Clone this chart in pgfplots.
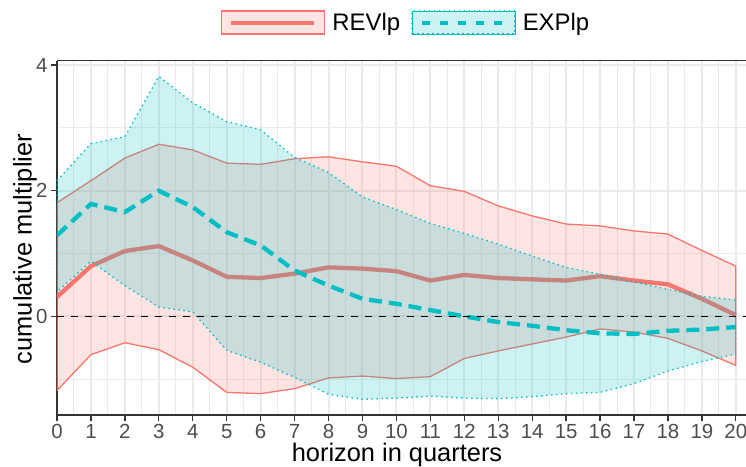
\documentclass[border=0pt]{standalone}
\usepackage{fontspec}
\setmainfont{Liberation Sans}
\usepackage{pgfplots}
\pgfplotsset{compat=1.18}
\definecolor{revc}{HTML}{F8766D}
\definecolor{expc}{HTML}{00BFC4}
\definecolor{gridc}{HTML}{EBEBEB}
\definecolor{axc}{HTML}{333333}
\definecolor{tickc}{HTML}{4D4D4D}
\pgfplotsset{
 revkey/.style={legend image code/.code={
   \fill[revc, fill opacity=0.2] (0bp,-11.5bp) rectangle (103bp,11.5bp);
   \draw[revc, line width=1.3bp] (0bp,-11.5bp) rectangle (103bp,11.5bp);
   \draw[revc, line width=4bp] (10bp,0bp) -- (93bp,0bp);
   \path[draw=none, fill=none] (0bp,0bp) -- (109bp,0bp);}},
 expkey/.style={legend image code/.code={
   \fill[expc, fill opacity=0.2] (0bp,-11.5bp) rectangle (103bp,11.5bp);
   \draw[expc, line width=1.3bp, dash pattern=on 1.5bp off 3.5bp] (0bp,-11.5bp) rectangle (103bp,11.5bp);
   \draw[expc, line width=4bp, dash pattern=on 8bp off 10bp] (10bp,0bp) -- (93bp,0bp);
   \path[draw=none, fill=none] (0bp,0bp) -- (109bp,0bp);}},
}
\begin{document}
\begin{tikzpicture}
\begin{axis}[
 scale only axis, width=689bp, height=354.3bp,
 xmin=0, xmax=20.3, ymin=-1.57, ymax=4.07,
 axis x line*=box, axis y line*=left,
 xtick={0,1,...,20}, ytick={0,2,4},
 minor xtick={0.5,1.5,...,19.5}, minor ytick={-1,1,3},
 xtick pos=left, ytick pos=left,
 grid=both,
 major grid style={gridc, line width=2bp},
 minor grid style={gridc, line width=1bp},
 tick align=outside, major tick length=6bp, minor tick length=0bp,
 tick style={axc, line width=1.3bp},
 axis line style={axc, line width=1.3bp},
 /pgf/number format/assume math mode=true,
 ticklabel style={font=\fontsize{20.5}{24}\selectfont, text=tickc},
 xticklabel style={yshift=0.5bp},
 xlabel={horizon in quarters}, ylabel={cumulative multiplier},
 label style={font=\fontsize{25.5}{30}\selectfont},
 xlabel style={at={(axis description cs:0.4935,0)}, anchor=base, yshift=-46.5bp},
 ylabel style={at={([xshift=-25.3bp]axis description cs:0,0.4685)}, anchor=base},
 legend style={at={(axis description cs:0.5065,1)}, anchor=center, yshift=38.2bp,
   draw=none, fill=none, font=\fontsize{24}{28}\selectfont,
   /tikz/every even column/.append style={column sep=9bp}},
 legend columns=2,
 after end axis/.code={
   \coordinate (pSW) at (rel axis cs:0,0);
   \coordinate (pNE) at (rel axis cs:1,1);},
]
\addlegendimage{revkey}\addlegendentry{REVlp}
\addlegendimage{expkey}\addlegendentry{EXPlp}
% REVlp band
\addplot[fill=revc, fill opacity=0.2, draw=revc, line width=1.3bp, line join=round, forget plot] coordinates {
(0,1.81)(1,2.16)(2,2.52)(3,2.74)(4,2.65)(5,2.44)(6,2.42)(7,2.51)(8,2.54)(9,2.46)(10,2.39)(11,2.08)(12,1.99)(13,1.76)(14,1.60)(15,1.47)(16,1.44)(17,1.36)(18,1.31)(19,1.05)(20,0.80)
(20,-0.78)(19,-0.55)(18,-0.35)(17,-0.25)(16,-0.20)(15,-0.33)(14,-0.44)(13,-0.55)(12,-0.67)(11,-0.96)(10,-0.99)(9,-0.95)(8,-0.98)(7,-1.15)(6,-1.23)(5,-1.21)(4,-0.81)(3,-0.53)(2,-0.42)(1,-0.61)(0,-1.18)
} -- cycle;
% REVlp mean
\addplot[revc, line width=4.3bp, line join=round, forget plot] coordinates {
(0,0.31)(1,0.80)(2,1.04)(3,1.12)(4,0.89)(5,0.63)(6,0.61)(7,0.68)(8,0.78)(9,0.76)(10,0.72)(11,0.57)(12,0.66)(13,0.61)(14,0.59)(15,0.57)(16,0.64)(17,0.57)(18,0.51)(19,0.28)(20,0.02)};
% EXPlp band
\addplot[fill=expc, fill opacity=0.2, draw=expc, line width=1.3bp, dash pattern=on 1.5bp off 3.5bp, forget plot] coordinates {
(0,2.16)(1,2.75)(2,2.86)(3,3.82)(4,3.40)(5,3.10)(6,2.97)(7,2.53)(8,2.29)(9,1.90)(10,1.70)(11,1.48)(12,1.32)(13,1.15)(14,0.96)(15,0.78)(16,0.67)(17,0.55)(18,0.43)(19,0.32)(20,0.26)
(20,-0.60)(19,-0.72)(18,-0.87)(17,-1.07)(16,-1.21)(15,-1.23)(14,-1.28)(13,-1.31)(12,-1.30)(11,-1.27)(10,-1.30)(9,-1.32)(8,-1.24)(7,-0.97)(6,-0.73)(5,-0.54)(4,0.07)(3,0.15)(2,0.49)(1,0.88)(0,0.39)
} -- cycle;
% EXPlp mean
\addplot[expc, line width=4.3bp, dash pattern=on 13bp off 7bp, forget plot] coordinates {
(0,1.29)(1,1.79)(2,1.66)(3,2.00)(4,1.74)(5,1.34)(6,1.13)(7,0.73)(8,0.49)(9,0.28)(10,0.20)(11,0.10)(12,0.00)(13,-0.09)(14,-0.15)(15,-0.22)(16,-0.27)(17,-0.28)(18,-0.23)(19,-0.21)(20,-0.17)};
% zero line
\addplot[black, line width=1.6bp, dash pattern=on 7bp off 7bp, forget plot] coordinates {(0,0)(20.3,0)};
\end{axis}
\pgfresetboundingbox
\path[use as bounding box] ([xshift=-57bp,yshift=-52bp]pSW) rectangle ([yshift=60.7bp]pNE);
\end{tikzpicture}
\end{document}
